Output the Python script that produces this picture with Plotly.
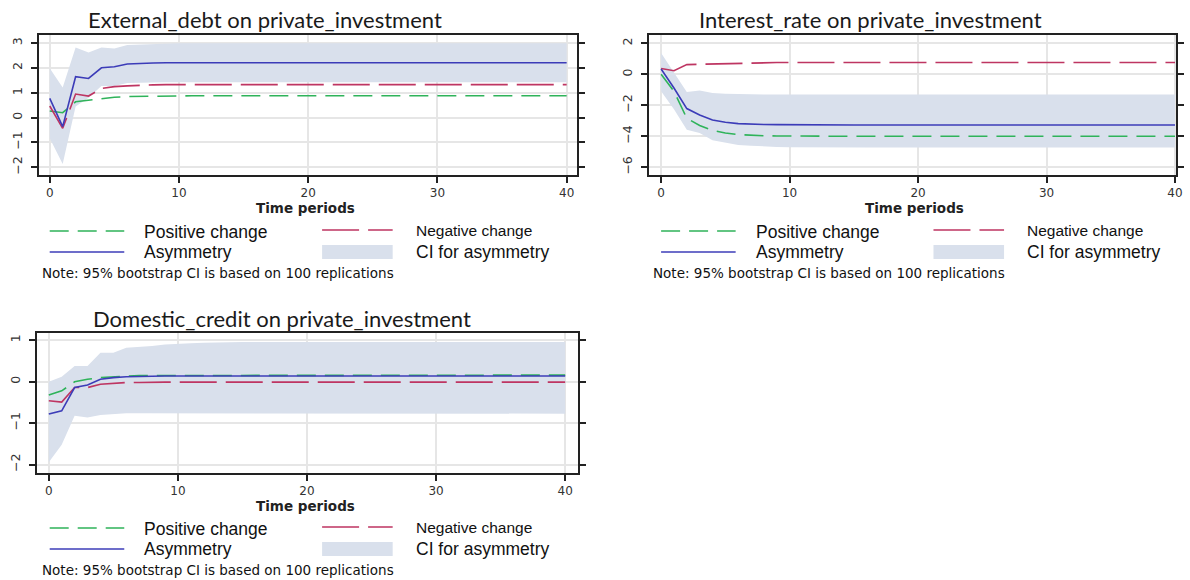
import plotly.graph_objects as go

W, H = 1190, 580

periods = list(range(41))

# ---- External_debt on private_investment ----
ext_pos = [0.27, 0.20, 0.64, 0.71, 0.78, 0.82, 0.85, 0.86, 0.87, 0.87,
           0.88, 0.88, 0.88, 0.88, 0.88, 0.88, 0.88, 0.88, 0.88, 0.88,
           0.88, 0.88, 0.88, 0.88, 0.88, 0.88, 0.88, 0.88, 0.88, 0.88,
           0.88, 0.88, 0.88, 0.88, 0.88, 0.88, 0.88, 0.88, 0.88, 0.88,
           0.88]
ext_neg = [0.47, -0.43, 0.95, 0.87, 1.18, 1.25, 1.28, 1.31, 1.32, 1.33,
           1.33, 1.33, 1.33, 1.33, 1.33, 1.33, 1.33, 1.33, 1.33, 1.33,
           1.33, 1.33, 1.33, 1.33, 1.33, 1.33, 1.33, 1.33, 1.33, 1.33,
           1.33, 1.33, 1.33, 1.33, 1.33, 1.33, 1.33, 1.33, 1.33, 1.33,
           1.33]
ext_asym = [0.78, -0.36, 1.65, 1.58, 2.01, 2.05, 2.16, 2.19, 2.20, 2.21,
            2.21, 2.21, 2.21, 2.21, 2.21, 2.21, 2.21, 2.21, 2.21, 2.21,
            2.21, 2.21, 2.21, 2.21, 2.21, 2.21, 2.21, 2.21, 2.21, 2.21,
            2.21, 2.21, 2.21, 2.21, 2.21, 2.21, 2.21, 2.21, 2.21, 2.21,
            2.21]
ext_hi = [1.99, 1.22, 2.83, 2.62, 2.83, 2.79, 2.93, 2.95, 2.98, 2.99,
          3.00, 3.00, 3.00, 3.00, 3.00, 3.00, 3.00, 3.00, 3.00, 3.00,
          3.00, 3.00, 3.00, 3.00, 3.00, 3.00, 3.00, 3.00, 3.00, 3.00,
          3.00, 3.00, 3.00, 3.00, 3.00, 3.00, 3.00, 3.00, 3.00, 3.00,
          3.00]
ext_lo = [-0.83, -1.87, 0.45, 0.80, 1.28, 1.28, 1.40, 1.42, 1.43, 1.43,
          1.43, 1.43, 1.43, 1.43, 1.43, 1.43, 1.43, 1.43, 1.43, 1.43,
          1.43, 1.43, 1.43, 1.43, 1.43, 1.43, 1.43, 1.43, 1.43, 1.43,
          1.43, 1.43, 1.43, 1.43, 1.43, 1.43, 1.43, 1.43, 1.43, 1.43,
          1.43]

# ---- Interest_rate on private_investment ----
int_pos = [0.00, -1.09, -2.84, -3.30, -3.62, -3.79, -3.89, -3.94, -3.97, -3.98,
           -3.99, -4.00, -4.00, -4.00, -4.00, -4.00, -4.00, -4.00, -4.00, -4.00,
           -4.00, -4.00, -4.00, -4.00, -4.00, -4.00, -4.00, -4.00, -4.00, -4.00,
           -4.00, -4.00, -4.00, -4.00, -4.00, -4.00, -4.00, -4.00, -4.00, -4.00,
           -4.00]
int_neg = [0.38, 0.23, 0.63, 0.65, 0.69, 0.72, 0.74, 0.75, 0.76, 0.76,
           0.76, 0.76, 0.76, 0.76, 0.76, 0.76, 0.76, 0.76, 0.76, 0.76,
           0.76, 0.76, 0.76, 0.76, 0.76, 0.76, 0.76, 0.76, 0.76, 0.76,
           0.76, 0.76, 0.76, 0.76, 0.76, 0.76, 0.76, 0.76, 0.76, 0.76,
           0.76]
int_asym = [0.34, -0.88, -2.21, -2.63, -2.95, -3.09, -3.18, -3.22, -3.24, -3.25,
            -3.26, -3.27, -3.27, -3.27, -3.27, -3.27, -3.27, -3.27, -3.27, -3.27,
            -3.27, -3.27, -3.27, -3.27, -3.27, -3.27, -3.27, -3.27, -3.27, -3.27,
            -3.27, -3.27, -3.27, -3.27, -3.27, -3.27, -3.27, -3.27, -3.27, -3.27,
            -3.27]
int_hi = [1.37, 0.10, -1.14, -1.05, -1.20, -1.26, -1.28, -1.30, -1.31, -1.31,
          -1.31, -1.31, -1.31, -1.31, -1.31, -1.31, -1.31, -1.31, -1.31, -1.31,
          -1.31, -1.31, -1.31, -1.31, -1.31, -1.31, -1.31, -1.31, -1.31, -1.31,
          -1.31, -1.31, -1.31, -1.31, -1.31, -1.31, -1.31, -1.31, -1.31, -1.31,
          -1.31]
int_lo = [-1.09, -2.25, -3.58, -3.79, -4.25, -4.40, -4.57, -4.61, -4.66, -4.69,
          -4.71, -4.72, -4.72, -4.72, -4.72, -4.72, -4.72, -4.72, -4.72, -4.72,
          -4.72, -4.72, -4.72, -4.72, -4.72, -4.72, -4.72, -4.72, -4.72, -4.72,
          -4.72, -4.72, -4.72, -4.72, -4.72, -4.72, -4.72, -4.72, -4.72, -4.72,
          -4.72]

# ---- Domestic_credit on private_investment ----
dom_pos = [-0.32, -0.22, 0.00, 0.06, 0.10, 0.12, 0.14, 0.15, 0.15, 0.15,
           0.16, 0.16, 0.16, 0.16, 0.16, 0.16, 0.16, 0.16, 0.16, 0.16,
           0.16, 0.16, 0.16, 0.16, 0.16, 0.16, 0.16, 0.16, 0.16, 0.16,
           0.16, 0.16, 0.16, 0.16, 0.16, 0.16, 0.16, 0.16, 0.16, 0.16,
           0.16]
dom_neg = [-0.46, -0.49, -0.14, -0.14, -0.06, -0.04, -0.02, -0.02, -0.01, -0.01,
           -0.01, -0.01, -0.01, -0.01, -0.01, -0.01, -0.01, -0.01, -0.01, -0.01,
           -0.01, -0.01, -0.01, -0.01, -0.01, -0.01, -0.01, -0.01, -0.01, -0.01,
           -0.01, -0.01, -0.01, -0.01, -0.01, -0.01, -0.01, -0.01, -0.01, -0.01,
           -0.01]
dom_asym = [-0.78, -0.70, -0.14, -0.08, 0.06, 0.10, 0.12, 0.13, 0.14, 0.14,
            0.14, 0.14, 0.14, 0.14, 0.14, 0.14, 0.14, 0.14, 0.14, 0.14,
            0.14, 0.14, 0.14, 0.14, 0.14, 0.14, 0.14, 0.14, 0.14, 0.14,
            0.14, 0.14, 0.14, 0.14, 0.14, 0.14, 0.14, 0.14, 0.14, 0.14,
            0.14]
dom_hi = [0.00, 0.12, 0.38, 0.38, 0.70, 0.70, 0.82, 0.84, 0.86, 0.90,
          0.92, 0.93, 0.94, 0.95, 0.95, 0.96, 0.96, 0.96, 0.96, 0.96,
          0.96, 0.96, 0.96, 0.96, 0.96, 0.96, 0.96, 0.96, 0.96, 0.96,
          0.96, 0.96, 0.96, 0.96, 0.96, 0.96, 0.96, 0.96, 0.96, 0.96,
          0.96]
dom_lo = [-1.94, -1.52, -0.82, -0.86, -0.80, -0.78, -0.76, -0.76, -0.76, -0.77,
          -0.77, -0.77, -0.77, -0.77, -0.77, -0.77, -0.77, -0.77, -0.77, -0.77,
          -0.77, -0.77, -0.77, -0.77, -0.77, -0.77, -0.77, -0.77, -0.77, -0.77,
          -0.77, -0.77, -0.77, -0.77, -0.77, -0.77, -0.77, -0.77, -0.77, -0.77,
          -0.77]

titles = ["External_debt on private_investment",
          "Interest_rate on private_investment",
          "Domestic_credit on private_investment"]
x_ticks = [0, 10, 20, 30, 40]
y_ticks = [[-2, -1, 0, 1, 2, 3], [-6, -4, -2, 0, 2], [-2, -1, 0, 1]]
legend_labels = ["Positive change", "Negative change", "Asymmetry", "CI for asymmetry"]
note_text = "Note: 95% bootstrap CI is based on 100 replications"
x_title = "Time periods"

GREEN = "#2fb35a"
RED = "#be3562"
BLUE = "#3c3cb8"
BAND = "#d9e0ec"
GREEN_DASH = "19px,9px"
RED_DASH = "37px,9px"


def px_x(p):
    return p / W


def px_y(p):
    return 1 - p / H


# panel frames in pixels: (left, right, top, bottom), axis ranges
panels = [
    dict(box=(39, 580, 35, 175), xr=[-0.85, 40.77], yr=[-2.31, 3.33],
         data=(ext_pos, ext_neg, ext_asym, ext_hi, ext_lo),
         title_xy=(267, 20), xlab_xy=(307, 208), leg_x=50, leg_y=231, note_x=40),
    dict(box=(653, 1183, 35, 175), xr=[-0.93, 40.08], yr=[-6.5, 2.54],
         data=(int_pos, int_neg, int_asym, int_hi, int_lo),
         title_xy=(876, 20), xlab_xy=(920, 208), leg_x=665, leg_y=231, note_x=655),
    dict(box=(37, 581, 333, 473), xr=[-0.93, 40.96], yr=[-2.2, 1.175],
         data=(dom_pos, dom_neg, dom_asym, dom_hi, dom_lo),
         title_xy=(284, 318), xlab_xy=(307, 506), leg_x=50, leg_y=528, note_x=40),
]

fig = go.Figure()
layout = dict(width=W, height=H, margin=dict(l=0, r=0, t=0, b=0),
              paper_bgcolor="white", plot_bgcolor="white", showlegend=False)
annotations = []
shapes = []

for i, p in enumerate(panels):
    sfx = "" if i == 0 else str(i + 1)
    xa, ya = "x" + sfx, "y" + sfx
    pos, neg, asym, hi, lo = p["data"]
    l, r, t, b = p["box"]

    # confidence band
    fig.add_trace(go.Scatter(x=periods, y=hi, mode="lines", line=dict(width=0, color=BAND),
                             xaxis=xa, yaxis=ya, hoverinfo="skip"))
    fig.add_trace(go.Scatter(x=periods, y=lo, mode="lines", line=dict(width=0, color=BAND),
                             fill="tonexty", fillcolor=BAND, xaxis=xa, yaxis=ya,
                             name=legend_labels[3]))
    fig.add_trace(go.Scatter(x=periods, y=pos, mode="lines", name=legend_labels[0],
                             line=dict(color=GREEN, width=1.6, dash=GREEN_DASH),
                             xaxis=xa, yaxis=ya))
    fig.add_trace(go.Scatter(x=periods, y=neg, mode="lines", name=legend_labels[1],
                             line=dict(color=RED, width=1.6, dash=RED_DASH),
                             xaxis=xa, yaxis=ya))
    fig.add_trace(go.Scatter(x=periods, y=asym, mode="lines", name=legend_labels[2],
                             line=dict(color=BLUE, width=1.6),
                             xaxis=xa, yaxis=ya))

    axis_common = dict(showgrid=True, gridcolor="#e6e6e6", gridwidth=1.5,
                       showline=True, linecolor="#222", linewidth=2,
                       ticks="outside", ticklen=6, tickcolor="#222", tickwidth=1.5,
                       zeroline=False, ticklabeloverflow="allow",
                       tickfont=dict(family="DejaVu Sans", size=12, color="#333"))
    layout["xaxis" + sfx] = dict(axis_common, domain=[px_x(l), px_x(r)], range=p["xr"],
                                 tickvals=x_ticks, anchor=ya, mirror=True,
                                 ticklabelstandoff=0)
    layout["yaxis" + sfx] = dict(axis_common, domain=[px_y(b), px_y(t)], range=p["yr"],
                                 tickvals=y_ticks[i], anchor=xa, mirror="ticks",
                                 tickangle=-90, ticklabelstandoff=4,
                                 tickfont=dict(family="DejaVu Sans", size=12.5, color="#333"))

    # panel title and axis title
    tx, ty = p["title_xy"]
    annotations.append(dict(text=titles[i], x=px_x(tx), y=px_y(ty), xref="paper", yref="paper",
                            showarrow=False, xanchor="center", yanchor="middle",
                            font=dict(family="Lato", size=22, color="#1a1a1a")))
    lx, ly = p["xlab_xy"]
    annotations.append(dict(text="<b>" + x_title + "</b>", x=px_x(lx), y=px_y(ly),
                            xref="paper", yref="paper", showarrow=False,
                            xanchor="center", yanchor="middle",
                            font=dict(family="DejaVu Sans", size=13.5, color="#222")))

    # legend block
    gx, gy = p["leg_x"], p["leg_y"]
    col2 = gx + 274
    row2 = gy + 21
    shapes.append(dict(type="line", xref="paper", yref="paper",
                       x0=px_x(gx), x1=px_x(gx + 75), y0=px_y(gy), y1=px_y(gy),
                       line=dict(color=GREEN, width=1.6, dash=GREEN_DASH)))
    shapes.append(dict(type="line", xref="paper", yref="paper",
                       x0=px_x(col2), x1=px_x(col2 + 71), y0=px_y(gy - 1), y1=px_y(gy - 1),
                       line=dict(color=RED, width=1.6, dash=RED_DASH)))
    shapes.append(dict(type="line", xref="paper", yref="paper",
                       x0=px_x(gx), x1=px_x(gx + 75), y0=px_y(row2), y1=px_y(row2),
                       line=dict(color=BLUE, width=1.6)))
    shapes.append(dict(type="rect", xref="paper", yref="paper",
                       x0=px_x(col2), x1=px_x(col2 + 71), y0=px_y(row2 - 7), y1=px_y(row2 + 7),
                       line=dict(width=0), fillcolor=BAND))
    leg_items = [(legend_labels[0], gx + 93, gy + 1, 17.5),
                 (legend_labels[1], col2 + 92, gy - 1, 15.5),
                 (legend_labels[2], gx + 93, row2, 17.5),
                 (legend_labels[3], col2 + 92, row2, 17.5)]
    for txt, ax_, ay_, fs in leg_items:
        annotations.append(dict(text=txt, x=px_x(ax_), y=px_y(ay_), xref="paper", yref="paper",
                                showarrow=False, xanchor="left", yanchor="middle",
                                font=dict(family="Liberation Sans", size=fs, color="#111")))
    annotations.append(dict(text=note_text, x=px_x(p["note_x"]), y=px_y(gy + 42),
                            xref="paper", yref="paper", showarrow=False,
                            xanchor="left", yanchor="middle",
                            font=dict(family="DejaVu Sans", size=13.5, color="#111")))

layout["annotations"] = annotations
layout["shapes"] = shapes
fig.update_layout(**layout)
fig.write_html("out.html")
